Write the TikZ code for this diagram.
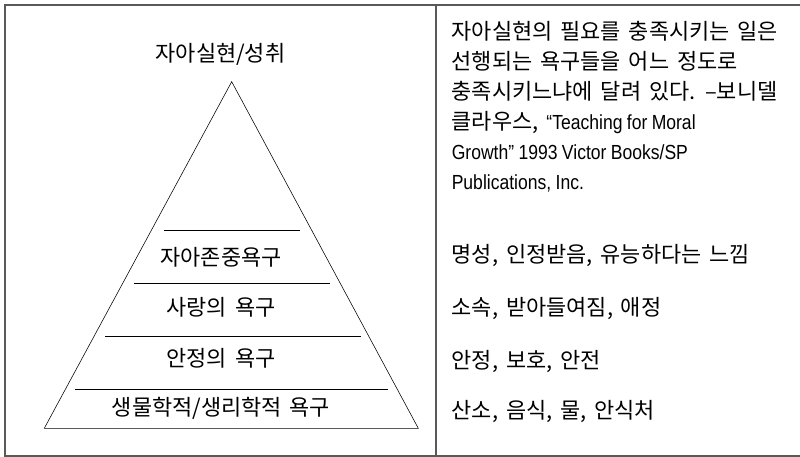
\documentclass[tikz,border=0pt]{standalone}
\usepackage{fontspec}
\setmainfont[WordSpace=1.6]{Noto Sans CJK KR}
\newfontfamily\lat[Scale=0.93, FakeStretch=0.86, WordSpace=0.9]{Liberation Sans}
\usetikzlibrary{positioning, calc}

\begin{document}
\begin{tikzpicture}[x=0.025cm, y=-0.025cm, font=\fontsize{15.6}{20}\selectfont]
    \tikzstyle{frame} = [draw=black!65, line width=1.4pt]
    \tikzstyle{lvl} = [thin]
    \tikzstyle{need} = [inner sep=0pt, anchor=base]
    \tikzstyle{txt} = [inner sep=0pt, anchor=base west]

    \useasboundingbox (0,0) rectangle (800,457);

    % Define coordinates
    \coordinate (tl) at (5,5);
    \coordinate (tr) at (800,5);
    \coordinate (bl) at (5,456);
    \coordinate (br) at (800,456);
    \coordinate (dt) at (436,5);
    \coordinate (db) at (436,456);
    \coordinate (apex) at (231.7,81.7);
    \coordinate (left) at (44.3,428.3);
    \coordinate (right) at (418.3,428.3);

    % Draw frame
    \draw[frame] (tr) -- (tl) -- (bl) -- (br);
    \draw[frame] (dt) -- (db);

    % Draw pyramid
    \draw[lvl] (apex) -- (right) -- (left) -- cycle;
    \draw[lvl] (164.3,230) -- (299.7,230);
    \draw[lvl] (133.7,283.7) -- (330,283.7);
    \draw[lvl] (105.3,336.7) -- (361,336.7);
    \draw[lvl] (75,389) -- (387.7,389);

    % Define nodes
    \node[need] (top) at (220.5,62) {자아실현/성취};
    \node[need] (esteem) at (221,266) {자아존중욕구};
    \node[need] (love) at (221,316) {사랑의 욕구};
    \node[need] (safety) at (221,366) {안정의 욕구};
    \node[need] (body) at (221,415) {생물학적/생리학적 욕구};

    % Quote
    \node[txt] (q1) at (451.5,40) {자아실현의 필요를 충족시키는 일은};
    \node[txt] (q2) at (451.5,70) {선행되는 욕구들을 어느 정도로};
    \node[txt] (q3) at (451.5,100) {충족시키느냐에 달려 있다. –보니델};
    \node[txt] (q4) at (451.5,130) {클라우스, {\lat “Teaching for Moral}};
    \node[txt] (q5) at (451.5,160) {\lat Growth” 1993 Victor Books/SP};
    \node[txt] (q6) at (451.5,190) {\lat Publications, Inc.};

    % Descriptions
    \node[txt] (d1) at (451.5,263) {명성, 인정받음, 유능하다는 느낌};
    \node[txt] (d2) at (451.5,316) {소속, 받아들여짐, 애정};
    \node[txt] (d3) at (451.5,368) {안정, 보호, 안전};
    \node[txt] (d4) at (451.5,418) {산소, 음식, 물, 안식처};
\end{tikzpicture}
\end{document}
